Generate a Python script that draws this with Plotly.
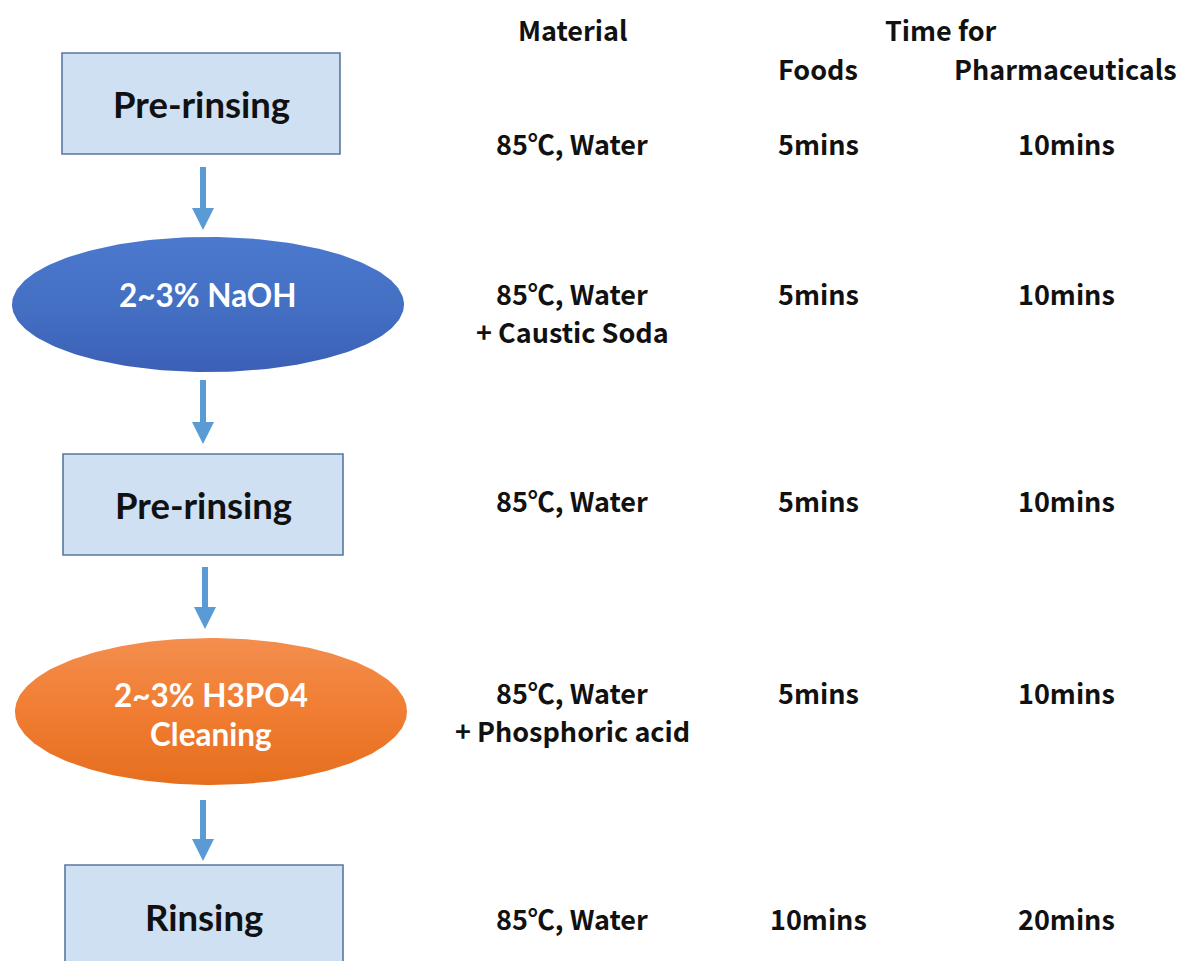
import numpy as np
import plotly.graph_objects as go

# ---------------- data ----------------
step_labels = ["Pre-rinsing", "2~3% NaOH", "Pre-rinsing", "2~3% H3PO4<br>Cleaning", "Rinsing"]
step_shapes = ["box", "ellipse", "box", "ellipse", "box"]
materials = [["85℃, Water"], ["85℃, Water", "+ Caustic Soda"], ["85℃, Water"],
             ["85℃, Water", "+ Phosphoric acid"], ["85℃, Water"]]
time_foods = ["5mins", "5mins", "5mins", "5mins", "10mins"]
time_pharma = ["10mins", "10mins", "10mins", "10mins", "20mins"]
headers = ["Material", "Time for", "Foods", "Pharmaceuticals"]

# ---------------- layout (pixel space) ----------------
W, H = 1179, 961
# node bounding boxes: x0, x1, y0, y1
node_boxes = [(62, 340, 53, 154), (12, 404, 237, 372), (63, 343, 454, 555),
              (15, 407, 638, 785), (65, 343, 865, 985)]
label_y = [[104], [295], [505], [695, 734], [917]]
row_y = [143, 293, 500, 692, 918]
line_gap = 38
arrows = [(203, 167, 230), (203, 380, 444), (205, 567, 629), (203, 800, 861)]
col_x = [572, 818, 1066]

box_fill = "#cfe0f3"
box_line = "#5878a0"
arrow_col = "#5b9bd5"
ellipse_grad = [
    [[0, "#3b60b6"], [0.5, "#4470c4"], [1, "#4b79cd"]],
    [[0, "#e66e1e"], [0.5, "#f07d32"], [1, "#f48e4e"]],
]

fig = go.Figure()
eidx = 0
for i, (lab, kind) in enumerate(zip(step_labels, step_shapes)):
    x0, x1, y0, y1 = node_boxes[i]
    if kind == "box":
        fig.add_shape(type="rect", x0=x0, x1=x1, y0=y0, y1=y1,
                      fillcolor=box_fill, line=dict(color=box_line, width=1.6),
                      layer="below")
        txtcol = "#111111"
        fsize = 36.5
    else:
        cx, cy = (x0 + x1) / 2, (y0 + y1) / 2
        rx, ry = (x1 - x0) / 2, (y1 - y0) / 2
        t = np.linspace(0, 2 * np.pi, 241)
        fig.add_trace(go.Scatter(
            x=cx + rx * np.cos(t), y=cy + ry * np.sin(t), mode="lines",
            fill="toself", line=dict(width=0),
            fillgradient=dict(type="vertical", colorscale=ellipse_grad[eidx]),
            hoverinfo="skip", showlegend=False))
        eidx += 1
        txtcol = "#ffffff"
        fsize = 31.5
    parts = lab.split("<br>")
    for p, yy in zip(parts, label_y[i]):
        fig.add_annotation(x=(x0 + x1) / 2, y=yy, text=f"<b>{p}</b>", showarrow=False,
                           font=dict(family="Lato", size=fsize, color=txtcol),
                           xanchor="center", yanchor="middle")

# arrows
for ax_, ya, yb in arrows:
    head_h = 22
    fig.add_shape(type="line", x0=ax_, x1=ax_, y0=ya, y1=yb - head_h + 2,
                  line=dict(color=arrow_col, width=6))
    fig.add_shape(type="path",
                  path=f"M {ax_-11},{yb-head_h} L {ax_+11},{yb-head_h} L {ax_},{yb} Z",
                  fillcolor=arrow_col, line=dict(width=0))

# right-hand table text
tfont = dict(family="Noto Sans CJK KR", size=27, color="#111111")
hdr_pos = [(572, 29), (941, 29), (818, 68), (1065, 68)]
for h, (hx, hy) in zip(headers, hdr_pos):
    fig.add_annotation(x=hx, y=hy, text=f"<b>{h}</b>", showarrow=False, font=tfont,
                       xanchor="center", yanchor="middle")
for i in range(len(step_labels)):
    for k, m in enumerate(materials[i]):
        fig.add_annotation(x=col_x[0], y=row_y[i] + k * line_gap, text=f"<b>{m}</b>",
                           showarrow=False, font=tfont, xanchor="center", yanchor="middle")
    fig.add_annotation(x=col_x[1], y=row_y[i], text=f"<b>{time_foods[i]}</b>",
                       showarrow=False, font=tfont, xanchor="center", yanchor="middle")
    fig.add_annotation(x=col_x[2], y=row_y[i], text=f"<b>{time_pharma[i]}</b>",
                       showarrow=False, font=tfont, xanchor="center", yanchor="middle")

fig.update_layout(
    width=W, height=H, margin=dict(l=0, r=0, t=0, b=0),
    paper_bgcolor="white", plot_bgcolor="white",
    xaxis=dict(range=[0, W], visible=False, fixedrange=True),
    yaxis=dict(range=[H, 0], visible=False, fixedrange=True),
    showlegend=False,
)
fig.write_html("out.html", config={"displayModeBar": False},
               post_script="document.body.style.margin='0';")
